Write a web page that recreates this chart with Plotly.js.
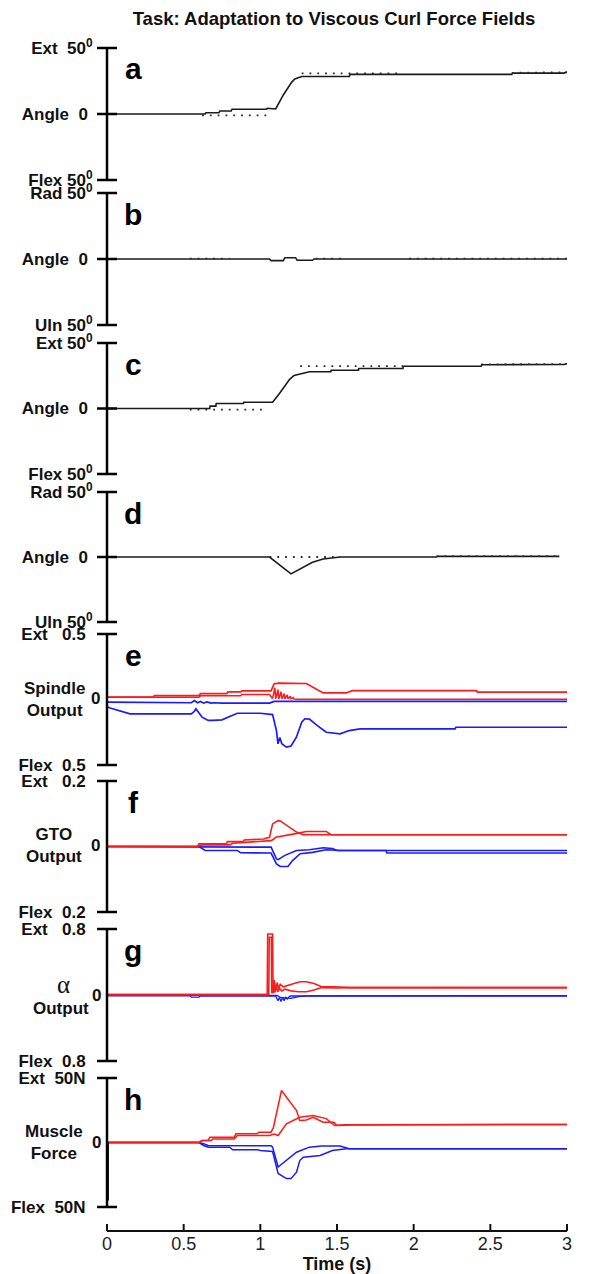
<!DOCTYPE html>
<html><head><meta charset="utf-8">
<script src="https://cdn.plot.ly/plotly-3.0.1.min.js"></script>
<style>html,body{margin:0;padding:0;background:#fff}#chart{width:595px;height:1274px}</style>
</head><body><div id="chart"></div>
<script>
// ---------------- DATA ----------------
const xTickVals = [0, 0.5, 1, 1.5, 2, 2.5, 3];
const xTickText = ['0', '0.5', '1', '1.5', '2', '2.5', '3'];
const xRange = [0, 3];

const panelLetters = ['a', 'b', 'c', 'd', 'e', 'f', 'g', 'h'];
const panelRanges = [50, 50, 50, 50, 0.5, 0.2, 0.8, 50];
const panelTopLabels = ['Ext  50<sup>0</sup>', 'Rad 50<sup>0</sup>', 'Ext 50<sup>0</sup>', 'Rad 50<sup>0</sup>', 'Ext   0.5', 'Ext   0.2', 'Ext   0.8', 'Ext  50N'];
const panelBottomLabels = ['Flex 50<sup>0</sup>', 'Uln 50<sup>0</sup>', 'Flex 50<sup>0</sup>', 'Uln 50<sup>0</sup>', 'Flex  0.5', 'Flex  0.2', 'Flex  0.8', 'Flex  50N'];
const panelMidLabels = ['Angle  0 ', 'Angle  0 ', 'Angle  0 ', 'Angle  0 ', null, null, null, null];
const sideLabels = ['Spindle<br>Output', 'GTO<br>Output', 'Output', 'Muscle<br>Force'];
const alphaLabel = 'α';

// panel a : wrist flexion/extension angle (deg)
const tA = [0, 0.64, 0.645, 0.73, 0.736, 0.81, 0.815, 1.04, 1.045, 1.095, 1.10, 1.15, 1.205, 1.225, 1.27, 1.58, 1.585, 2.64, 2.645, 2.98, 3.0];
const vA = [0, 0, 1.0, 1.0, 2.3, 2.3, 3.6, 3.6, 4.3, 4.3, 3.8, 14.4, 24.2, 26.5, 28.4, 28.4, 30.0, 30.0, 31.0, 31.0, 32.0];
const tAdot = [0.62, 1.04, null, 1.27, 1.92, null, 2.64, 3.0];
const vAdot = [-1, -1, null, 30.8, 30.8, null, 31.2, 31.6];

// panel b : radial/ulnar angle (deg)
const tB = [0, 1.06, 1.07, 1.15, 1.16, 1.23, 1.24, 1.34, 1.35, 1.56, 1.57, 1.67, 1.68, 3.0];
const vB = [0, 0, -1.2, -1.2, 1.0, 1.0, -1.0, -1.0, 0, 0, 0.5, 0.5, 0, 0];
const tBdot = [0.54, 0.8, null, 1.36, 1.56, null, 1.97, 3.0];
const vBdot = [0.3, 0.3, null, 0.3, 0.3, null, 0.3, 0.3];

// panel c : flexion/extension angle, second trial (deg)
const tC = [0, 0.67, 0.672, 0.71, 0.712, 0.89, 0.892, 1.08, 1.12, 1.15, 1.19, 1.22, 1.27, 1.32, 1.46, 1.462, 1.64, 1.642, 1.93, 1.932, 2.44, 2.445, 2.98, 3.0];
const vC = [0, 0, 1.8, 1.8, 3.8, 3.8, 4.8, 4.8, 10.7, 15.8, 22.1, 25.2, 26.7, 28.0, 28.0, 29.2, 29.2, 30.5, 30.5, 32.3, 32.3, 33.4, 33.6, 34.3];
const tCdot = [0.54, 1.04, null, 1.26, 1.93, null, 2.44, 3.0];
const vCdot = [-0.8, -0.8, null, 32.3, 32.3, null, 33.7, 33.9];

// panel d : radial/ulnar angle, second trial (deg)
const tD = [0, 1.06, 1.20, 1.28, 1.34, 1.41, 1.50, 1.52, 2.15, 2.155, 2.95];
const vD = [0, 0, -13, -8, -4, -1.5, -0.5, 0, 0, 0.5, 0.5];
const tDdot = [1.06, 1.52, null, 2.15, 2.95];
const vDdot = [0, 0, null, 0.6, 0.6];

// panel e : spindle output
const tEred1 = [0, 0.3, 0.31, 0.6, 0.61, 0.78, 0.79, 0.87, 0.88, 1.07, 1.09, 1.12, 1.30, 1.41, 1.56, 1.60, 2.41, 2.415, 3.0];
const vEred1 = [0.018, 0.018, 0.03, 0.03, 0.045, 0.045, 0.058, 0.058, 0.066, 0.066, 0.12, 0.125, 0.122, 0.05, 0.05, 0.068, 0.068, 0.056, 0.056];
const tEred2 = [0, 0.6, 0.61, 0.87, 0.88, 1.06, 1.08, 1.095, 1.10, 1.115, 1.12, 1.135, 1.14, 1.155, 1.16, 1.175, 1.18, 1.195, 1.2, 1.215, 1.22, 1.24, 3.0];
const vEred2 = [0.018, 0.018, 0.028, 0.028, 0.038, 0.038, 0.008, 0.09, 0.005, 0.075, 0.005, 0.06, 0.005, 0.045, 0.005, 0.035, 0.005, 0.025, 0.005, 0.015, 0.003, 0.002, 0.002];
const tEblue1 = [0, 0.55, 0.57, 0.59, 0.61, 0.63, 0.65, 0.68, 0.7, 0.75, 1.06, 1.09, 3.0];
const vEblue1 = [-0.02, -0.025, -0.008, -0.025, -0.015, -0.028, -0.018, -0.028, -0.025, -0.028, -0.028, -0.015, -0.015];
const tEblue2 = [0, 0.02, 0.15, 0.55, 0.57, 0.58, 0.62, 0.66, 0.69, 0.75, 0.8, 0.85, 1.0, 1.06, 1.08, 1.105, 1.115, 1.127, 1.14, 1.17, 1.20, 1.235, 1.27, 1.29, 1.32, 1.37, 1.43, 1.52, 1.58, 1.65, 2.27, 2.275, 3.0];
const vEblue2 = [-0.055, -0.065, -0.11, -0.11, -0.09, -0.071, -0.135, -0.16, -0.16, -0.155, -0.13, -0.105, -0.105, -0.11, -0.115, -0.237, -0.338, -0.29, -0.338, -0.364, -0.355, -0.288, -0.173, -0.147, -0.15, -0.198, -0.25, -0.262, -0.237, -0.224, -0.224, -0.212, -0.212];

// panel f : GTO output
const tFred1 = [0, 0.59, 0.6, 0.78, 0.785, 0.89, 0.895, 1.02, 1.06, 1.08, 1.116, 1.13, 1.236, 1.28, 3.0];
const vFred1 = [0, 0, 0.008, 0.008, 0.015, 0.015, 0.02, 0.023, 0.028, 0.069, 0.079, 0.078, 0.044, 0.036, 0.036];
const tFred2 = [0, 0.59, 0.62, 0.8, 0.82, 1.07, 1.085, 1.10, 1.24, 1.30, 1.43, 1.46, 3.0];
const vFred2 = [0, 0, 0.005, 0.005, 0.01, 0.018, 0.022, 0.028, 0.04, 0.046, 0.046, 0.036, 0.036];
const tFblue1 = [0, 0.6, 0.62, 1.07, 1.105, 1.116, 1.16, 1.236, 1.32, 1.41, 1.47, 1.5, 3.0];
const vFblue1 = [0, 0, -0.002, -0.002, -0.038, -0.04, -0.027, -0.012, -0.01, -0.004, -0.006, -0.012, -0.012];
const tFblue2 = [0, 0.6, 0.64, 0.85, 0.87, 1.07, 1.105, 1.13, 1.18, 1.21, 1.26, 1.34, 1.43, 1.52, 1.82, 1.825, 3.0];
const vFblue2 = [0, 0, -0.012, -0.012, -0.019, -0.02, -0.053, -0.061, -0.061, -0.043, -0.022, -0.018, -0.01, -0.012, -0.012, -0.02, -0.02];

// panel g : alpha output
const tGred1 = [0, 1.045, 1.048, 1.08, 1.083, 1.09, 1.10, 1.11, 1.12, 1.13, 1.15, 1.18, 1.22, 1.26, 1.30, 1.35, 1.40, 1.48, 1.55, 1.6, 3.0];
const vGred1 = [0.004, 0.004, 0.74, 0.74, 0.02, 0.18, 0.06, 0.15, 0.08, 0.13, 0.1, 0.12, 0.14, 0.16, 0.16, 0.14, 0.1, 0.1, 0.09, 0.09, 0.09];
const tGred2 = [0, 1.055, 1.058, 1.072, 1.075, 1.085, 1.095, 1.105, 1.115, 1.125, 1.14, 1.16, 1.2, 1.25, 1.3, 1.35, 1.40, 1.5, 1.6, 3.0];
const vGred2 = [0.004, 0.004, 0.7, 0.7, 0.02, 0.12, 0.03, 0.1, 0.04, 0.08, 0.05, 0.07, 0.05, 0.04, 0.04, 0.06, 0.09, 0.085, 0.09, 0.09];
const tGblue1 = [0, 0.54, 0.55, 0.6, 0.61, 1.10, 1.115, 1.125, 1.135, 1.145, 1.155, 1.165, 1.175, 1.19, 1.2, 3.0];
const vGblue1 = [-0.01, -0.01, -0.025, -0.025, -0.012, -0.012, -0.07, -0.03, -0.08, -0.03, -0.07, -0.03, -0.05, -0.015, -0.012, -0.012];
const tGblue2 = [0, 1.11, 1.13, 1.2, 1.25, 1.3, 3.0];
const vGblue2 = [-0.005, -0.005, -0.03, -0.04, -0.02, -0.01, -0.008];

// panel h : muscle force (N)
const tHred1 = [0, 0.6, 0.62, 0.66, 0.67, 0.83, 0.84, 0.98, 0.99, 1.07, 1.085, 1.116, 1.138, 1.236, 1.257, 1.30, 1.344, 1.41, 1.48, 1.50, 1.60, 3.0];
const vHred1 = [0, 0, 1.5, 1.5, 4.1, 4.1, 6.7, 6.7, 8.0, 8.0, 11.5, 27, 40.3, 24.8, 17, 17.5, 19.6, 15.7, 15.7, 13.2, 13.5, 14];
const tHred2 = [0, 0.6, 0.62, 0.68, 0.69, 0.83, 0.85, 1.06, 1.09, 1.116, 1.17, 1.257, 1.344, 1.43, 1.485, 1.55, 3.0];
const vHred2 = [0, 0, 1.5, 1.5, 2.8, 2.8, 5.4, 5.4, 6.5, 5.4, 14.5, 19.6, 21, 18.5, 13.2, 13.8, 14];
const tHblue1 = [0, 0.6, 0.63, 0.66, 1.07, 1.08, 1.116, 1.17, 1.236, 1.32, 1.4, 1.52, 1.58, 3.0];
const vHblue1 = [0, 0, -1.0, -2.3, -2.5, -3.6, -19, -14, -7.5, -3.6, -2.8, -2.8, -4.9, -4.9];
const tHblue2 = [0, 0.6, 0.63, 0.66, 0.8, 0.82, 0.98, 1.0, 1.08, 1.116, 1.17, 1.20, 1.236, 1.257, 1.28, 1.39, 1.47, 1.56, 3.0];
const vHblue2 = [0, 0, -2.3, -3.6, -3.6, -5.7, -5.7, -6.2, -7, -24, -28, -28, -23, -14, -11.4, -10, -6.2, -4.9, -4.9];
const tHinit = [0, 0];
const vHinit = [0, -45];

// ---------------- LAYOUT ----------------
const W = 595, H = 1274, ML = 107, MR = 28;
const PW = W - ML - MR;
const panelPx = [[48,180],[193,325],[343,474],[492,622],[634,765],[781,912],[929,1061],[1078,1207]];
const xAxisPx = 1231;
const FONT = 'Liberation Sans, Arial, sans-serif';
const NB = '\u00a0';
const nb = s => s == null ? s : s.replace(/ /g, NB);
const RED = '#ff1a1a', BLUE = '#1a1aff', BLK = '#1a1a1a';
const CLEAR = 'rgba(0,0,0,0)';

const traces = [];
for (let k = 1; k <= 8; k++) {
  traces.push({type: 'scatter', mode: 'none', x: [0], y: [0], xaxis: 'x', yaxis: k === 1 ? 'y' : 'y' + k, hoverinfo: 'skip', showlegend: false});
}
// data are drawn on the companion axes (y9..y16): same domain and range as the labelled ones
function line(t, v, p, color, width, dash) {
  traces.push({
    type: 'scatter', mode: 'lines', x: t, y: v,
    xaxis: 'x', yaxis: 'y' + (p + 9),
    line: {color: color, width: width, dash: dash || 'solid'},
    connectgaps: false, hoverinfo: 'skip', showlegend: false
  });
}
const DOT = '1.8px,6px';
const DOTC = '#2a2a2a';
line(tA, vA, 0, BLK, 1.6); line(tAdot, vAdot, 0, DOTC, 1.8, DOT);
line(tB, vB, 1, BLK, 1.6); line(tBdot, vBdot, 1, DOTC, 1.8, DOT);
line(tC, vC, 2, BLK, 1.6); line(tCdot, vCdot, 2, DOTC, 1.8, DOT);
line(tD, vD, 3, BLK, 1.6); line(tDdot, vDdot, 3, DOTC, 1.8, DOT);
line(tEblue2, vEblue2, 4, BLUE, 1.7); line(tEblue1, vEblue1, 4, BLUE, 1.7);
line(tEred2, vEred2, 4, RED, 1.5); line(tEred1, vEred1, 4, RED, 1.7);
line(tFblue2, vFblue2, 5, BLUE, 1.6); line(tFblue1, vFblue1, 5, BLUE, 1.6);
line(tFred2, vFred2, 5, RED, 1.6); line(tFred1, vFred1, 5, RED, 1.6);
line(tGblue2, vGblue2, 6, BLUE, 1.3); line(tGblue1, vGblue1, 6, BLUE, 1.3);
line(tGred2, vGred2, 6, RED, 1.6); line(tGred1, vGred1, 6, RED, 1.6);
line(tHblue2, vHblue2, 7, BLUE, 1.5); line(tHblue1, vHblue1, 7, BLUE, 1.5);
line(tHred2, vHred2, 7, RED, 1.5); line(tHred1, vHred1, 7, RED, 1.5);
line(tHinit, vHinit, 7, BLK, 4);
traces.push({type: 'scatter', mode: 'none', x: [0], y: [0], xaxis: 'x', yaxis: 'y17', hoverinfo: 'skip', showlegend: false});

const layout = {
  width: W, height: H,
  margin: {l: ML, r: MR, t: 0, b: 0, pad: 0},
  paper_bgcolor: '#ffffff', plot_bgcolor: 'rgba(255,255,255,0)',
  showlegend: false,
  font: {family: FONT, color: '#000'},
  title: {text: '<b>Task: Adaptation to Viscous Curl Force Fields</b>', font: {family: FONT, size: 18.5, color: '#111'},
          x: 334 / W, xanchor: 'center', xref: 'container', y: 1 - 19 / H, yanchor: 'middle', yref: 'container'},
  xaxis: {
    domain: [0, 1], range: xRange, anchor: 'y17', side: 'bottom',
    showline: false, ticks: 'inside', ticklen: 7, tickwidth: 2, tickcolor: CLEAR,
    tickmode: 'array', tickvals: xTickVals, ticktext: xTickText,
    tickfont: {family: FONT, size: 18, color: '#222'},
    showgrid: false, zeroline: false, fixedrange: true,
    title: {text: '<b>Time (s)</b>', font: {family: FONT, size: 18, color: '#111'}, standoff: 3}
  },
  // thin helper axis that only carries the time axis at its bottom edge
  yaxis17: {
    domain: [1 - xAxisPx / H, 1 - (xAxisPx - 6) / H], anchor: 'x', range: [0, 1],
    showline: false, ticks: '', showticklabels: false, showgrid: false, zeroline: false, fixedrange: true
  },
  annotations: [],
  shapes: []
};

const axisLine = {color: '#000', width: 2.5};
panelPx.forEach((px, i) => {
  const r = panelRanges[i];
  const angle = i < 4;
  const vals = angle ? [-r, 0, r] : [-r, r];
  const txt = angle ? [panelBottomLabels[i], panelMidLabels[i], panelTopLabels[i]] : [panelBottomLabels[i], panelTopLabels[i]];
  const dom = [1 - px[1] / H, 1 - px[0] / H];
  layout[i === 0 ? 'yaxis' : 'yaxis' + (i + 1)] = {
    domain: dom, range: [-r, r], anchor: 'x', side: 'left',
    showline: false,
    ticks: 'outside', ticklen: 10, tickwidth: 2.5, tickcolor: CLEAR,
    tickmode: 'array', tickvals: vals, ticktext: txt.map(s => '<b>' + nb(s) + '</b>'),
    tickfont: {family: FONT, size: 17, color: '#111'},
    ticklabelstandoff: angle ? 0 : 7,
    showgrid: false, zeroline: false, fixedrange: true
  };
  const cid = 'y' + (i + 9);
  layout['yaxis' + (i + 9)] = {
    domain: dom, anchor: 'x', side: 'left', range: [-r, r],
    ticks: '', showticklabels: false, showline: false, showgrid: false, zeroline: false, fixedrange: true
  };
  // vertical axis bar of the panel
  layout.shapes.push({type: 'line', layer: 'above', xref: 'paper', yref: cid + ' domain',
    x0: 0, x1: 0, y0: 0, y1: 1, line: axisLine});
  // cross ticks (10 px each side) at each tick value
  vals.forEach(v => layout.shapes.push({type: 'line', layer: 'above', xref: 'paper', xsizemode: 'pixel', xanchor: 0,
    x0: -10, x1: 10, yref: cid + ' domain', y0: (v + r) / (2 * r), y1: (v + r) / (2 * r), line: axisLine}));
  layout.annotations.push({
    text: '<b>' + panelLetters[i] + '</b>', xref: 'paper', yref: 'paper',
    x: (133 - ML) / PW, y: 1 - (px[0] + 21) / H, xanchor: 'center', yanchor: 'middle',
    showarrow: false, font: {family: FONT, size: 30, color: '#000'}
  });
});

// time axis: line and upward ticks
const xLine = {color: '#111', width: 2};
layout.shapes.push({type: 'line', layer: 'above', xref: 'paper', yref: 'y17 domain', x0: 0, x1: 1, y0: 0, y1: 0, line: xLine});
xTickVals.forEach(tv => {
  const fx = (tv - xRange[0]) / (xRange[1] - xRange[0]);
  layout.shapes.push({type: 'line', layer: 'above', xref: 'paper', yref: 'y17 domain', ysizemode: 'pixel', yanchor: 0,
    x0: fx, x1: fx, y0: 0, y1: 7, line: xLine});
});

function ann(text, xPx, panel, yshift, font) {
  layout.annotations.push({
    text: text, xref: 'paper', yref: 'y' + (panel + 9), x: (xPx - ML) / PW, y: 0,
    xanchor: 'center', yanchor: 'middle', yshift: yshift, showarrow: false, font: font
  });
}
const bold17 = {family: FONT, size: 17, color: '#111'};
ann('<b>' + sideLabels[0] + '</b>', 54, 4, 0, bold17);
ann('<b>0</b>', 95, 4, 1, bold17);
ann('<b>' + sideLabels[1] + '</b>', 54, 5, 1, bold17);
ann('<b>0</b>', 95, 5, 1, bold17);
ann(alphaLabel, 63, 6, 10, {family: 'Liberation Serif, Times New Roman, serif', size: 25, color: '#111'});
ann('<b>' + sideLabels[2] + '</b>', 61, 6, -14, bold17);
ann('<b>0</b>', 96, 6, -1, bold17);
ann('<b>' + sideLabels[3] + '</b>', 54, 7, 0, bold17);
ann('<b>0</b>', 96, 7, 0, bold17);

Plotly.newPlot('chart', traces, layout, {staticPlot: true, displayModeBar: false});
</script></body></html>
